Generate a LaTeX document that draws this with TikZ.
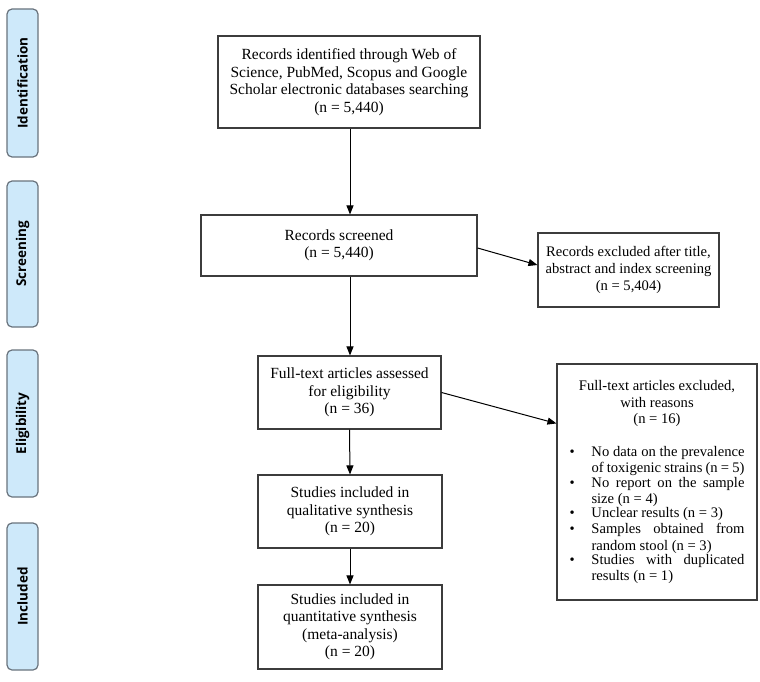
\documentclass[tikz,border=0pt]{standalone}
\usepackage{fontspec}
\setmainfont{Liberation Serif}
\newfontfamily\labfont{Open Sans}
\usetikzlibrary{arrows.meta,calc}
\definecolor{labfill}{RGB}{206,233,250}
\definecolor{labdraw}{RGB}{105,115,125}
\definecolor{boxdraw}{RGB}{60,60,60}
\newcommand\bitem[1]{\noindent\makebox[22pt][l]{\textbullet}\parbox[t]{153pt}{\fontsize{14.6}{16.2}\selectfont\leftskip=0pt\rightskip=0pt\parfillskip=0pt plus 1fil\relax #1\par}\par}
\tikzset{
  phase/.style={draw=labdraw, fill=labfill, rounded corners=5pt, line width=1.2pt, rotate=90,
    minimum width=#1, minimum height=31pt, inner sep=0pt,
    font=\labfont\bfseries\fontsize{13.5}{15}\selectfont, text=black},
  box/.style={draw=boxdraw, line width=1.1pt, align=center, inner sep=0pt,
    font=\fontsize{15.5}{17.5}\selectfont},
  arr/.style={-{Triangle[length=9pt,width=7pt]}, line width=1pt}
}
\begin{document}
\begin{tikzpicture}[x=1pt,y=-1pt]
\useasboundingbox (0,0) rectangle (760,682);
% phase labels
\node[phase=148pt] (pid) at (22.5,83) {Identification};
\node[phase=146pt] (psc) at (22.5,254) {Screening};
\node[phase=147pt] (pel) at (22.5,423.5) {Eligibility};
\node[phase=147pt] (pin) at (22.5,596.5) {Included};
% boxes
\node[box, minimum width=262pt, minimum height=92pt] (top) at (349,82)
  {Records identified through Web of\\Science, PubMed, Scopus and Google\\Scholar electronic databases searching\\(n = 5,440)};
\node[box, minimum width=276pt, minimum height=61pt] (scr) at (339,245.5)
  {Records screened\\(n = 5,440)};
\node[box, minimum width=181pt, minimum height=74pt, font=\fontsize{14.6}{17}\selectfont] (ex1) at (628.5,270)
  {Records excluded after title,\\abstract and index screening\\(n = 5,404)};
\node[box, minimum width=183pt, minimum height=73pt] (full) at (349.5,392.5)
  {Full-text articles assessed\\for eligibility\\(n = 36)};
\node[box, minimum width=184pt, minimum height=73pt] (qual) at (350,511.5)
  {Studies included in\\qualitative synthesis\\(n = 20)};
\node[box, minimum width=184pt, minimum height=84pt] (quant) at (350,627)
  {Studies included in\\quantitative synthesis\\(meta-analysis)\\(n = 20)};
\node[box, minimum width=200pt, minimum height=236pt, font=\fontsize{14.6}{16.5}\selectfont] (ex2) at (657,482)
  {\begin{minipage}{175pt}
   \fontsize{14.6}{16.5}\selectfont
   \centering Full-text articles excluded,\\ with reasons\\ (n = 16)\par\vspace{17pt}
   \fontsize{14.6}{16.2}\selectfont
   \bitem{No data on the prevalence\linebreak of toxigenic strains (n = 5)}
   \bitem{No report on the sample\linebreak size (n = 4)}
   \bitem{Unclear results (n = 3)}
   \bitem{Samples obtained from\linebreak random stool (n = 3)}
   \bitem{Studies with duplicated\linebreak results (n = 1)}
   \end{minipage}};
% connectors
\draw[arr] ([xshift=1pt]top.south) -- ([xshift=1pt]top.south |- scr.north);
\draw[arr] ([yshift=-2.5pt]scr.east) -- ([yshift=5pt]ex1.west);
\draw[arr] ([xshift=1pt]top.south |- scr.south) -- ([xshift=1pt]top.south |- full.north);
\draw[arr] (full.east) -- ($(ex2.north west)+(0,60)$);
\draw[arr] (full.south) -- (qual.north);
\draw[arr] (qual.south) -- (quant.north);
\end{tikzpicture}
\end{document}
